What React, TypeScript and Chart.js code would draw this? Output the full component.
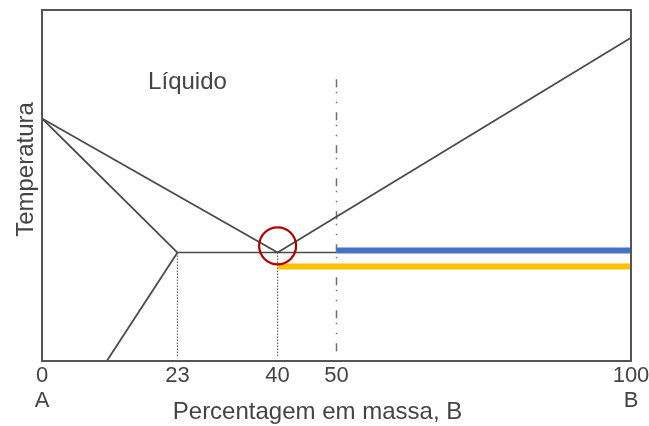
import React, { useEffect, useRef } from "react";
import { Chart, registerables } from "chart.js";

Chart.register(...registerables);

// Composition (% B) tick values and labels
const xTicks = [0, 23, 40, 50, 100];
const xTickLabels: (string | string[])[] = [["0", "A"], "23", "40", "50", ["100", "B"]];

// Temperature (arbitrary units, 0 = bottom, 100 = top of frame)
const tMeltA = 69.1;
const tMeltB = 92.1;
const tEutectic = 30.9;
const xEutectic = 40;
const xSolidusLimit = 23;
const xSolvusBottom = 11;

const liquidusLeft = [{ x: 0, y: tMeltA }, { x: xEutectic, y: tEutectic }];
const liquidusRight = [{ x: xEutectic, y: tEutectic }, { x: 100, y: tMeltB }];
const solidusLeft = [{ x: 0, y: tMeltA }, { x: xSolidusLimit, y: tEutectic }];
const eutecticIsotherm = [{ x: xSolidusLimit, y: tEutectic }, { x: 50, y: tEutectic }];
const solvus = [{ x: xSolidusLimit, y: tEutectic }, { x: xSolvusBottom, y: 0 }];
const dotted23 = [{ x: 23, y: tEutectic }, { x: 23, y: 1.3 }];
const dotted40 = [{ x: 40, y: tEutectic }, { x: 40, y: 1.3 }];
const dashDot50 = [{ x: 50, y: 80.3 }, { x: 50, y: 2.3 }];
const blueLine = [{ x: 50, y: 31.5 }, { x: 100, y: 31.5 }];
const yellowLine = [{ x: 40, y: 26.9 }, { x: 100, y: 26.9 }];
const eutecticMarker = [{ x: 40, y: 32.8 }];

const liquidLabel = { text: "Líquido", x: 24.7, y: 77.4 };
const yTitle = "Temperatura";
const xTitle = "Percentagem em massa, B";

const FONT = "'Liberation Sans', Arial, Helvetica, sans-serif";
const TEXT = "#444444";
const LINE = "#4a4a4a";

const overlayPlugin = {
  id: "overlay",
  afterDatasetsDraw(chart: any) {
    const { ctx, chartArea } = chart;
    const xs = chart.scales.x;
    const ys = chart.scales.y;
    ctx.save();
    // frame
    ctx.strokeStyle = "#555555";
    ctx.lineWidth = 2;
    ctx.strokeRect(chartArea.left, chartArea.top, chartArea.right - chartArea.left, chartArea.bottom - chartArea.top);
    // liquid label
    ctx.fillStyle = TEXT;
    ctx.font = `24px ${FONT}`;
    ctx.textAlign = "center";
    ctx.textBaseline = "alphabetic";
    ctx.fillText(liquidLabel.text, xs.getPixelForValue(liquidLabel.x), ys.getPixelForValue(liquidLabel.y));
    // x title
    ctx.fillText(xTitle, 317.5, 419);
    // y title
    ctx.translate(33, 169.5);
    ctx.rotate(-Math.PI / 2);
    ctx.fillText(yTitle, 0, 0);
    ctx.restore();
  },
};

function lineDs(data: any[], color: string, width: number, dash: number[] = []) {
  return {
    data,
    borderColor: color,
    borderWidth: width,
    borderDash: dash,
    pointRadius: 0,
    showLine: true,
    fill: false,
    tension: 0,
  };
}

export default function App() {
  const ref = useRef<HTMLCanvasElement | null>(null);

  useEffect(() => {
    if (!ref.current) return;
    const chart = new Chart(ref.current, {
      type: "scatter",
      data: {
        datasets: [
          {
            data: eutecticMarker,
            showLine: false,
            pointRadius: 18.5,
            pointStyle: "circle",
            pointBackgroundColor: "rgba(0,0,0,0)",
            pointBorderColor: "#B00000",
            pointBorderWidth: 2.2,
          } as any,
          lineDs(blueLine, "#4472C4", 6),
          lineDs(yellowLine, "#FFC000", 6),
          lineDs(liquidusLeft, LINE, 1.8),
          lineDs(liquidusRight, LINE, 1.8),
          lineDs(solidusLeft, LINE, 1.8),
          lineDs(eutecticIsotherm, LINE, 1.6),
          lineDs(solvus, LINE, 1.8),
          lineDs(dotted23, "#666666", 1.2, [1.5, 1.5]),
          lineDs(dotted40, "#666666", 1.2, [1.5, 1.5]),
          lineDs(dashDot50, "#707070", 1.5, [8, 4.5, 1.5, 8.5, 1.5, 9]),
        ] as any,
      },
      options: {
        animation: false,
        responsive: false,
        devicePixelRatio: 1,
        layout: { autoPadding: false, padding: { left: 0, right: 18, top: 10, bottom: 0 } },
        plugins: { legend: { display: false }, tooltip: { enabled: false } },
        scales: {
          x: {
            type: "linear",
            min: 0,
            max: 100,
            grid: { display: false, drawTicks: false },
            border: { display: false },
            afterBuildTicks: (scale: any) => {
              scale.ticks = xTicks.map((v) => ({ value: v }));
            },
            afterFit: (scale: any) => {
              scale.height = 65;
              scale.paddingLeft = 0;
              scale.paddingRight = 0;
            },
            ticks: {
              autoSkip: false,
              maxRotation: 0,
              padding: 2,
              color: TEXT,
              font: { family: FONT, size: 22, lineHeight: 1.15 },
              callback: (v: any) => {
                const i = xTicks.indexOf(Number(v));
                return i >= 0 ? xTickLabels[i] : "";
              },
            },
          },
          y: {
            type: "linear",
            min: 0,
            max: 100,
            grid: { display: false, drawTicks: false },
            border: { display: false },
            ticks: { display: false },
            afterFit: (scale: any) => {
              scale.width = 42;
            },
          },
        },
      } as any,
      plugins: [overlayPlugin],
    });
    return () => chart.destroy();
  }, []);

  return (
    <div style={{ position: "fixed", left: 0, top: 0, width: 649, height: 426, background: "#fff" }}>
      <canvas ref={ref} width={649} height={426} style={{ display: "block" }} />
    </div>
  );
}
